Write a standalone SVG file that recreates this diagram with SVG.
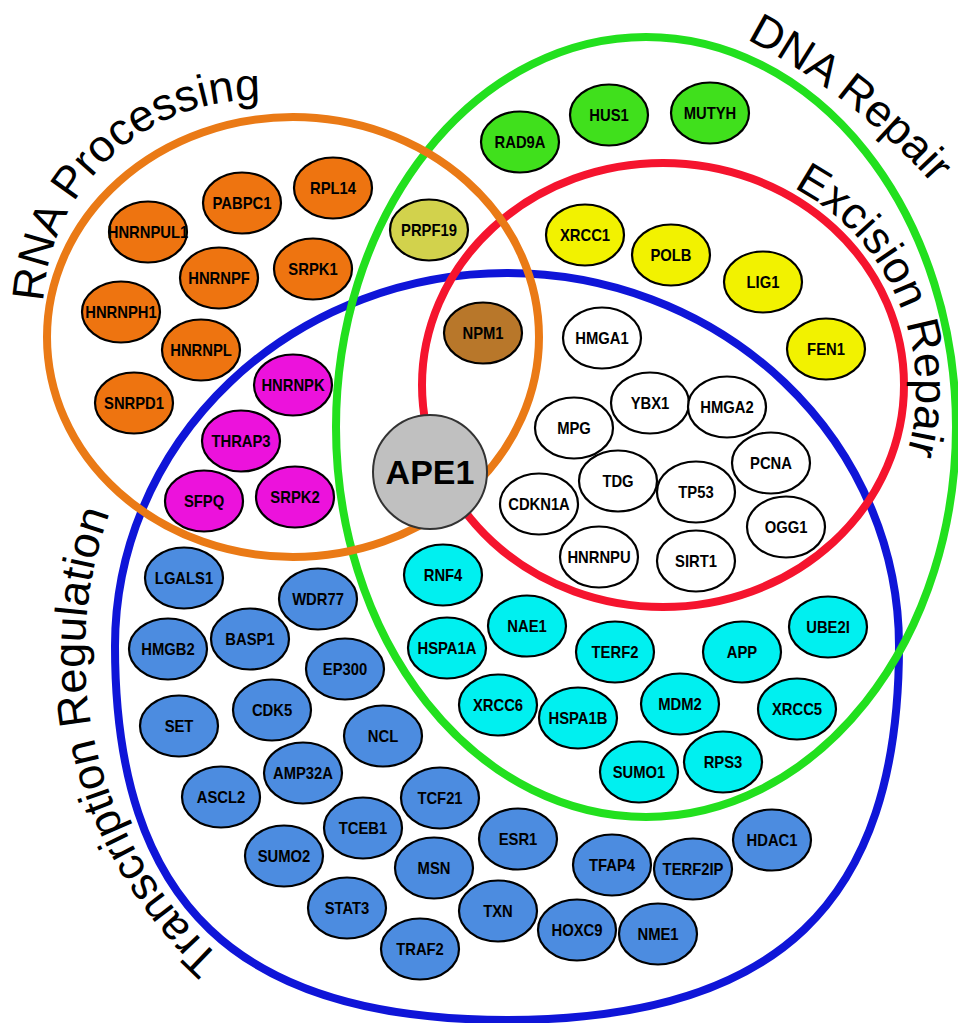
<svg xmlns="http://www.w3.org/2000/svg" width="958" height="1023" viewBox="0 0 958 1023">
<style>
.ring{fill:none;stroke-width:8}
.node ellipse{stroke:#000;stroke-width:2.2}
.node text{font-family:'Liberation Sans',Arial,sans-serif;font-weight:bold;font-size:17px;text-anchor:middle;fill:#000;transform:scaleX(0.87)}
.lbl{font-family:'Liberation Sans',Arial,sans-serif;font-size:45px;fill:#000}
.o ellipse{fill:#ee7410}
.m ellipse{fill:#ec12dc}
.g ellipse{fill:#40e01c}
.y ellipse{fill:#f2f200}
.w ellipse{fill:#fff}
.c ellipse{fill:#00f0f0}
.b ellipse{fill:#4c8ce0}
.olive ellipse{fill:#d2d24c}
.brown ellipse{fill:#b8772a}
</style>
<defs>
<path id="pRNA" d="M43.3,301.9 A213,213 0 0 1 328.8,112.8"/>
<path id="pDNA" d="M746.3,39.2 A657,657 0 0 1 1038,344"/>
<path id="pExc" d="M793.3,187.8 A228,228 0 0 1 885.5,504"/>
<path id="pTR" d="M220.7,957.7 A410,410 0 0 1 159.2,417.8"/>
</defs>
<rect width="958" height="1023" fill="#fff"/>
<g id="sets">
<path id="set-transcription" class="ring" stroke="#0f15d8" d="M115,646 A392,373 0 0 1 899,646 C899,903.3 776.7,1020 507,1020 C237.3,1020 115,903.3 115,646 Z"/>
<ellipse id="set-dna" class="ring" stroke="#22e01e" cx="646" cy="427" rx="310" ry="390"/>
<ellipse id="set-excision" class="ring" stroke="#f5142e" cx="663" cy="385" rx="241" ry="222"/>
<ellipse id="set-rna" class="ring" stroke="#ea7a16" cx="293" cy="337" rx="246" ry="220"/>
</g>
<g id="labels">
<text class="lbl"><textPath href="#pRNA">RNA Processing</textPath></text>
<text class="lbl"><textPath href="#pDNA">DNA Repair</textPath></text>
<text class="lbl"><textPath href="#pExc">Excision Repair</textPath></text>
<text class="lbl"><textPath href="#pTR">Transcription Regulation</textPath></text>
</g>
<g id="nodes">
<g id="HNRNPUL1" class="node o" transform="translate(148,232)"><ellipse rx="39" ry="30.5"/><text y="6">HNRNPUL1</text></g>
<g id="PABPC1" class="node o" transform="translate(242,203)"><ellipse rx="39" ry="30.5"/><text y="6">PABPC1</text></g>
<g id="RPL14" class="node o" transform="translate(333,188)"><ellipse rx="39" ry="30.5"/><text y="6">RPL14</text></g>
<g id="HNRNPF" class="node o" transform="translate(219,278)"><ellipse rx="39" ry="30.5"/><text y="6">HNRNPF</text></g>
<g id="SRPK1" class="node o" transform="translate(313,269)"><ellipse rx="39" ry="30.5"/><text y="6">SRPK1</text></g>
<g id="HNRNPH1" class="node o" transform="translate(121,312)"><ellipse rx="39" ry="30.5"/><text y="6">HNRNPH1</text></g>
<g id="HNRNPL" class="node o" transform="translate(201,350)"><ellipse rx="39" ry="30.5"/><text y="6">HNRNPL</text></g>
<g id="SNRPD1" class="node o" transform="translate(134,403)"><ellipse rx="39" ry="30.5"/><text y="6">SNRPD1</text></g>
<g id="HNRNPK" class="node m" transform="translate(293,385)"><ellipse rx="39" ry="30.5"/><text y="6">HNRNPK</text></g>
<g id="THRAP3" class="node m" transform="translate(241,441)"><ellipse rx="39" ry="30.5"/><text y="6">THRAP3</text></g>
<g id="SFPQ" class="node m" transform="translate(204,501)"><ellipse rx="39" ry="30.5"/><text y="6">SFPQ</text></g>
<g id="SRPK2" class="node m" transform="translate(295,497)"><ellipse rx="39" ry="30.5"/><text y="6">SRPK2</text></g>
<g id="PRPF19" class="node olive" transform="translate(429,230)"><ellipse rx="39" ry="30.5"/><text y="6">PRPF19</text></g>
<g id="NPM1" class="node brown" transform="translate(483,333)"><ellipse rx="39" ry="30.5"/><text y="6">NPM1</text></g>
<g id="RAD9A" class="node g" transform="translate(520,142)"><ellipse rx="39" ry="30.5"/><text y="6">RAD9A</text></g>
<g id="HUS1" class="node g" transform="translate(609,115)"><ellipse rx="39" ry="30.5"/><text y="6">HUS1</text></g>
<g id="MUTYH" class="node g" transform="translate(710,113)"><ellipse rx="39" ry="30.5"/><text y="6">MUTYH</text></g>
<g id="XRCC1" class="node y" transform="translate(585,235)"><ellipse rx="39" ry="30.5"/><text y="6">XRCC1</text></g>
<g id="POLB" class="node y" transform="translate(671,255)"><ellipse rx="39" ry="30.5"/><text y="6">POLB</text></g>
<g id="LIG1" class="node y" transform="translate(763,282)"><ellipse rx="39" ry="30.5"/><text y="6">LIG1</text></g>
<g id="FEN1" class="node y" transform="translate(826,349)"><ellipse rx="39" ry="30.5"/><text y="6">FEN1</text></g>
<g id="HMGA1" class="node w" transform="translate(602,338)"><ellipse rx="39" ry="30.5"/><text y="6">HMGA1</text></g>
<g id="YBX1" class="node w" transform="translate(650,403)"><ellipse rx="39" ry="30.5"/><text y="6">YBX1</text></g>
<g id="HMGA2" class="node w" transform="translate(727,407)"><ellipse rx="39" ry="30.5"/><text y="6">HMGA2</text></g>
<g id="MPG" class="node w" transform="translate(574,428)"><ellipse rx="39" ry="30.5"/><text y="6">MPG</text></g>
<g id="PCNA" class="node w" transform="translate(771,463)"><ellipse rx="39" ry="30.5"/><text y="6">PCNA</text></g>
<g id="TDG" class="node w" transform="translate(618,481)"><ellipse rx="39" ry="30.5"/><text y="6">TDG</text></g>
<g id="TP53" class="node w" transform="translate(696,492)"><ellipse rx="39" ry="30.5"/><text y="6">TP53</text></g>
<g id="CDKN1A" class="node w" transform="translate(539,504)"><ellipse rx="39" ry="30.5"/><text y="6">CDKN1A</text></g>
<g id="OGG1" class="node w" transform="translate(786,527)"><ellipse rx="39" ry="30.5"/><text y="6">OGG1</text></g>
<g id="HNRNPU" class="node w" transform="translate(599,557)"><ellipse rx="39" ry="30.5"/><text y="6">HNRNPU</text></g>
<g id="SIRT1" class="node w" transform="translate(696,561)"><ellipse rx="39" ry="30.5"/><text y="6">SIRT1</text></g>
<g id="RNF4" class="node c" transform="translate(443,575)"><ellipse rx="39" ry="30.5"/><text y="6">RNF4</text></g>
<g id="HSPA1A" class="node c" transform="translate(447,648)"><ellipse rx="39" ry="30.5"/><text y="6">HSPA1A</text></g>
<g id="NAE1" class="node c" transform="translate(527,626)"><ellipse rx="39" ry="30.5"/><text y="6">NAE1</text></g>
<g id="TERF2" class="node c" transform="translate(615,652)"><ellipse rx="39" ry="30.5"/><text y="6">TERF2</text></g>
<g id="APP" class="node c" transform="translate(742,652)"><ellipse rx="39" ry="30.5"/><text y="6">APP</text></g>
<g id="UBE2I" class="node c" transform="translate(828,627)"><ellipse rx="39" ry="30.5"/><text y="6">UBE2I</text></g>
<g id="XRCC6" class="node c" transform="translate(498,705)"><ellipse rx="39" ry="30.5"/><text y="6">XRCC6</text></g>
<g id="HSPA1B" class="node c" transform="translate(578,718)"><ellipse rx="39" ry="30.5"/><text y="6">HSPA1B</text></g>
<g id="MDM2" class="node c" transform="translate(680,704)"><ellipse rx="39" ry="30.5"/><text y="6">MDM2</text></g>
<g id="XRCC5" class="node c" transform="translate(797,709)"><ellipse rx="39" ry="30.5"/><text y="6">XRCC5</text></g>
<g id="SUMO1" class="node c" transform="translate(639,772)"><ellipse rx="39" ry="30.5"/><text y="6">SUMO1</text></g>
<g id="RPS3" class="node c" transform="translate(723,762)"><ellipse rx="39" ry="30.5"/><text y="6">RPS3</text></g>
<g id="LGALS1" class="node b" transform="translate(184,578)"><ellipse rx="39" ry="30.5"/><text y="6">LGALS1</text></g>
<g id="WDR77" class="node b" transform="translate(318,599)"><ellipse rx="39" ry="30.5"/><text y="6">WDR77</text></g>
<g id="HMGB2" class="node b" transform="translate(168,649)"><ellipse rx="39" ry="30.5"/><text y="6">HMGB2</text></g>
<g id="BASP1" class="node b" transform="translate(250,639)"><ellipse rx="39" ry="30.5"/><text y="6">BASP1</text></g>
<g id="EP300" class="node b" transform="translate(345,669)"><ellipse rx="39" ry="30.5"/><text y="6">EP300</text></g>
<g id="SET" class="node b" transform="translate(179,726)"><ellipse rx="39" ry="30.5"/><text y="6">SET</text></g>
<g id="CDK5" class="node b" transform="translate(272,710)"><ellipse rx="39" ry="30.5"/><text y="6">CDK5</text></g>
<g id="NCL" class="node b" transform="translate(383,736)"><ellipse rx="39" ry="30.5"/><text y="6">NCL</text></g>
<g id="AMP32A" class="node b" transform="translate(303,773)"><ellipse rx="39" ry="30.5"/><text y="6">AMP32A</text></g>
<g id="ASCL2" class="node b" transform="translate(221,797)"><ellipse rx="39" ry="30.5"/><text y="6">ASCL2</text></g>
<g id="TCF21" class="node b" transform="translate(440,798)"><ellipse rx="39" ry="30.5"/><text y="6">TCF21</text></g>
<g id="TCEB1" class="node b" transform="translate(363,828)"><ellipse rx="39" ry="30.5"/><text y="6">TCEB1</text></g>
<g id="SUMO2" class="node b" transform="translate(284,856)"><ellipse rx="39" ry="30.5"/><text y="6">SUMO2</text></g>
<g id="MSN" class="node b" transform="translate(434,868)"><ellipse rx="39" ry="30.5"/><text y="6">MSN</text></g>
<g id="STAT3" class="node b" transform="translate(347,908)"><ellipse rx="39" ry="30.5"/><text y="6">STAT3</text></g>
<g id="TRAF2" class="node b" transform="translate(420,949)"><ellipse rx="39" ry="30.5"/><text y="6">TRAF2</text></g>
<g id="ESR1" class="node b" transform="translate(518,839)"><ellipse rx="39" ry="30.5"/><text y="6">ESR1</text></g>
<g id="TFAP4" class="node b" transform="translate(612,865)"><ellipse rx="39" ry="30.5"/><text y="6">TFAP4</text></g>
<g id="TERF2IP" class="node b" transform="translate(693,869)"><ellipse rx="39" ry="30.5"/><text y="6">TERF2IP</text></g>
<g id="HDAC1" class="node b" transform="translate(772,840)"><ellipse rx="39" ry="30.5"/><text y="6">HDAC1</text></g>
<g id="TXN" class="node b" transform="translate(498,911)"><ellipse rx="39" ry="30.5"/><text y="6">TXN</text></g>
<g id="HOXC9" class="node b" transform="translate(577,930)"><ellipse rx="39" ry="30.5"/><text y="6">HOXC9</text></g>
<g id="NME1" class="node b" transform="translate(658,934)"><ellipse rx="39" ry="30.5"/><text y="6">NME1</text></g>
</g>
<g id="APE1">
<circle cx="430" cy="472" r="57" fill="#c0c0c0" stroke="#333" stroke-width="2"/>
<text x="430" y="484" text-anchor="middle" font-family="'Liberation Sans',Arial,sans-serif" font-weight="bold" font-size="34">APE1</text>
</g>
</svg>
